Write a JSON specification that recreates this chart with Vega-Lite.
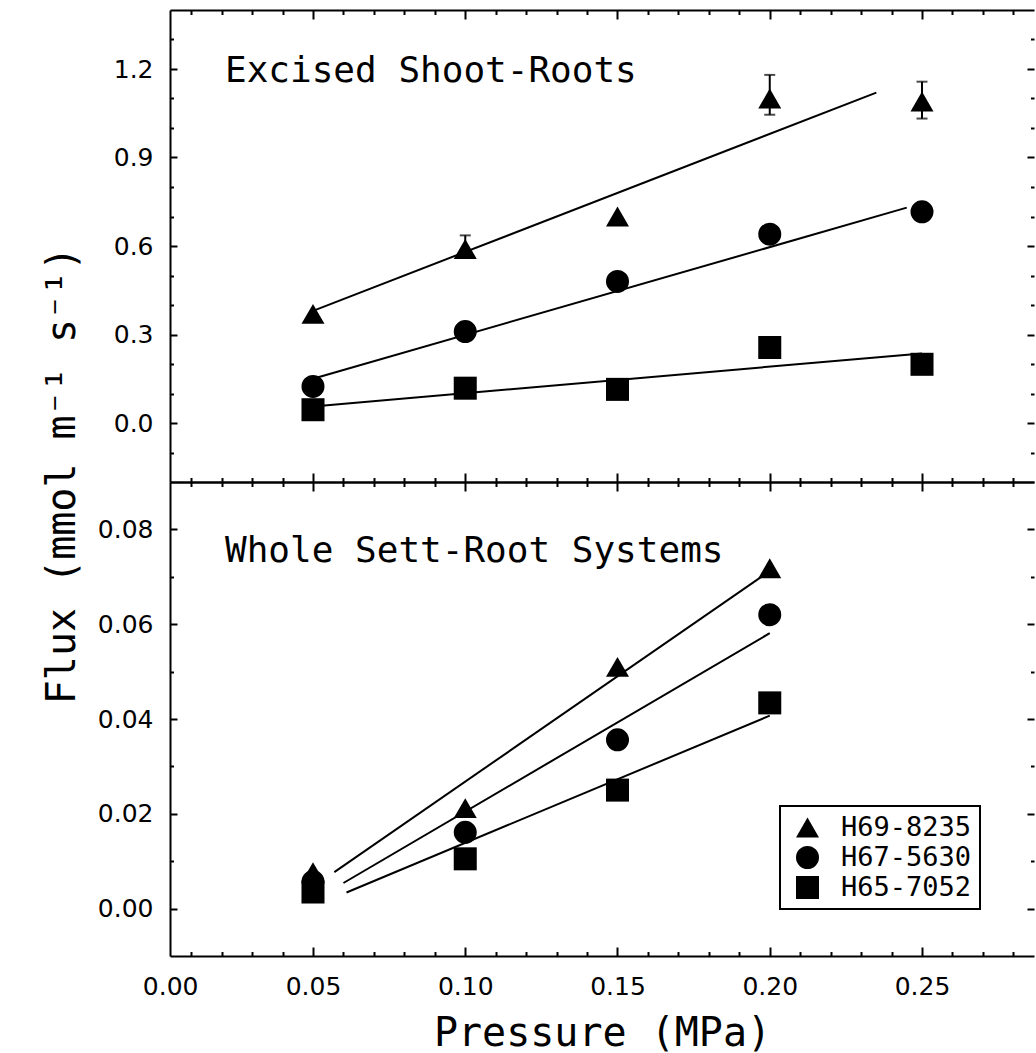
{
  "$schema": "https://vega.github.io/schema/vega-lite/v6.json",
  "background": "white",
  "padding": {"left": 42, "top": 9, "right": 0, "bottom": 0},
  "config": {
    "view": {"stroke": null},
    "axis": {
      "grid": false,
      "labelFont": "DejaVu Sans",
      "labelFontSize": 25,
      "labelColor": "black",
      "tickColor": "black",
      "tickWidth": 2,
      "domainColor": "black",
      "domainWidth": 2,
      "titleFont": "DejaVu Sans Mono",
      "titleFontSize": 40,
      "titleFontWeight": "normal",
      "titleColor": "black"
    },
    "legend": {
      "orient": "none",
      "legendX": 610,
      "legendY": 796,
      "labelFont": "DejaVu Sans Mono",
      "labelFontSize": 27,
      "labelColor": "black",
      "strokeColor": "black",
      "strokeWidth": 2,
      "fillColor": "white",
      "padding": 8,
      "symbolOffset": 6,
      "labelOffset": 20,
      "rowPadding": 2,
      "symbolStrokeWidth": 0
    }
  },
  "datasets": {
    "top_pts": [
      {"cultivar": "H69-8235", "pressure": 0.05, "flux": 0.37},
      {"cultivar": "H69-8235", "pressure": 0.10, "flux": 0.59},
      {"cultivar": "H69-8235", "pressure": 0.15, "flux": 0.70},
      {"cultivar": "H69-8235", "pressure": 0.20, "flux": 1.10},
      {"cultivar": "H69-8235", "pressure": 0.25, "flux": 1.09},
      {"cultivar": "H67-5630", "pressure": 0.05, "flux": 0.124},
      {"cultivar": "H67-5630", "pressure": 0.10, "flux": 0.31},
      {"cultivar": "H67-5630", "pressure": 0.15, "flux": 0.48},
      {"cultivar": "H67-5630", "pressure": 0.20, "flux": 0.64},
      {"cultivar": "H67-5630", "pressure": 0.25, "flux": 0.716},
      {"cultivar": "H65-7052", "pressure": 0.05, "flux": 0.045},
      {"cultivar": "H65-7052", "pressure": 0.10, "flux": 0.118},
      {"cultivar": "H65-7052", "pressure": 0.15, "flux": 0.114},
      {"cultivar": "H65-7052", "pressure": 0.20, "flux": 0.256},
      {"cultivar": "H65-7052", "pressure": 0.25, "flux": 0.199}
    ],
    "top_fit": [
      {"cultivar": "H69-8235", "pressure": 0.05, "flux": 0.38},
      {"cultivar": "H69-8235", "pressure": 0.235, "flux": 1.12},
      {"cultivar": "H67-5630", "pressure": 0.05, "flux": 0.15},
      {"cultivar": "H67-5630", "pressure": 0.245, "flux": 0.73},
      {"cultivar": "H65-7052", "pressure": 0.05, "flux": 0.056},
      {"cultivar": "H65-7052", "pressure": 0.25, "flux": 0.236}
    ],
    "top_err": [
      {"cultivar": "H69-8235", "pressure": 0.10, "lo": 0.561, "hi": 0.636},
      {"cultivar": "H69-8235", "pressure": 0.20, "lo": 1.045, "hi": 1.18},
      {"cultivar": "H69-8235", "pressure": 0.25, "lo": 1.032, "hi": 1.157}
    ],
    "top_text": [
      {"label": "Excised Shoot-Roots", "pressure": 0.0211, "flux": 1.155}
    ],
    "bot_pts": [
      {"cultivar": "H69-8235", "pressure": 0.05, "flux": 0.0077},
      {"cultivar": "H69-8235", "pressure": 0.10, "flux": 0.0212},
      {"cultivar": "H69-8235", "pressure": 0.15, "flux": 0.051},
      {"cultivar": "H69-8235", "pressure": 0.20, "flux": 0.0718},
      {"cultivar": "H67-5630", "pressure": 0.05, "flux": 0.0057},
      {"cultivar": "H67-5630", "pressure": 0.10, "flux": 0.0161},
      {"cultivar": "H67-5630", "pressure": 0.15, "flux": 0.0356},
      {"cultivar": "H67-5630", "pressure": 0.20, "flux": 0.062},
      {"cultivar": "H65-7052", "pressure": 0.05, "flux": 0.0035},
      {"cultivar": "H65-7052", "pressure": 0.10, "flux": 0.0105},
      {"cultivar": "H65-7052", "pressure": 0.15, "flux": 0.025},
      {"cultivar": "H65-7052", "pressure": 0.20, "flux": 0.0434}
    ],
    "bot_fit": [
      {"cultivar": "H69-8235", "pressure": 0.057, "flux": 0.0077},
      {"cultivar": "H69-8235", "pressure": 0.20, "flux": 0.0712},
      {"cultivar": "H67-5630", "pressure": 0.060, "flux": 0.0054},
      {"cultivar": "H67-5630", "pressure": 0.20, "flux": 0.0581},
      {"cultivar": "H65-7052", "pressure": 0.061, "flux": 0.0034},
      {"cultivar": "H65-7052", "pressure": 0.20, "flux": 0.0407}
    ],
    "bot_text": [
      {"label": "Whole Sett-Root Systems", "pressure": 0.0211, "flux": 0.0732}
    ]
  },
  "spacing": 0,
  "bounds": "flush",
  "vconcat": [
    {
      "width": 864,
      "height": 472,
      "layer": [
        {
          "data": {"name": "top_fit"},
          "mark": {"type": "line", "color": "black", "strokeWidth": 2},
          "encoding": {
            "x": {
              "field": "pressure", "type": "quantitative",
              "scale": {"domain": [0.00304, 0.28678], "nice": false, "zero": false},
              "axis": {"orient": "bottom", "values": [0.05, 0.1, 0.15, 0.2, 0.25], "tickSize": -9, "labels": false, "domain": true, "title": null}
            },
            "y": {
              "field": "flux", "type": "quantitative",
              "scale": {"domain": [-0.2, 1.4], "nice": false, "zero": false},
              "axis": {
                "orient": "left", "values": [0, 0.3, 0.6, 0.9, 1.2], "format": ".1f",
                "tickSize": -7, "labelPadding": 24, "domain": true,
                "title": "Flux (mmol m⁻¹ s⁻¹)", "titleY": 465, "titlePadding": 31
              }
            },
            "detail": {"field": "cultivar"}
          }
        },
        {
          "data": {"name": "top_err"},
          "mark": {"type": "rule", "color": "black", "strokeWidth": 2},
          "encoding": {
            "x": {
              "field": "pressure", "type": "quantitative",
              "axis": {"orient": "bottom", "values": [0.01, 0.02, 0.03, 0.04, 0.06, 0.07, 0.08, 0.09, 0.11, 0.12, 0.13, 0.14, 0.16, 0.17, 0.18, 0.19, 0.21, 0.22, 0.23, 0.24, 0.26, 0.27, 0.28], "tickSize": -4.5, "labels": false, "domain": false, "title": null}
            },
            "y": {
              "field": "lo", "type": "quantitative",
              "axis": {"orient": "left", "values": [-0.1, 0.1, 0.2, 0.4, 0.5, 0.7, 0.8, 1.0, 1.1, 1.3], "tickSize": -3.5, "labels": false, "domain": false, "title": null}
            },
            "y2": {"field": "hi"}
          }
        },
        {
          "data": {"name": "top_err"},
          "mark": {"type": "tick", "orient": "horizontal", "color": "black", "size": 11, "thickness": 2},
          "encoding": {
            "x": {
              "field": "pressure", "type": "quantitative",
              "axis": {"orient": "top", "values": [0.01, 0.02, 0.03, 0.04, 0.06, 0.07, 0.08, 0.09, 0.11, 0.12, 0.13, 0.14, 0.16, 0.17, 0.18, 0.19, 0.21, 0.22, 0.23, 0.24, 0.26, 0.27, 0.28], "tickSize": -4.5, "labels": false, "domain": false, "title": null}
            },
            "y": {
              "field": "lo", "type": "quantitative",
              "axis": {"orient": "right", "values": [-0.1, 0.1, 0.2, 0.4, 0.5, 0.7, 0.8, 1.0, 1.1, 1.3], "tickSize": -3.5, "labels": false, "domain": false, "title": null}
            }
          }
        },
        {
          "data": {"name": "top_err"},
          "mark": {"type": "tick", "orient": "horizontal", "color": "black", "size": 11, "thickness": 2},
          "encoding": {
            "x": {"field": "pressure", "type": "quantitative", "axis": null},
            "y": {"field": "hi", "type": "quantitative", "axis": null}
          }
        },
        {
          "data": {"name": "top_pts"},
          "mark": {"type": "point", "filled": true, "color": "black", "opacity": 1, "strokeWidth": 0},
          "encoding": {
            "x": {
              "field": "pressure", "type": "quantitative",
              "axis": {"orient": "top", "values": [0.05, 0.1, 0.15, 0.2, 0.25], "tickSize": -9, "labels": false, "domain": true, "title": null}
            },
            "y": {
              "field": "flux", "type": "quantitative",
              "axis": {"orient": "right", "values": [0, 0.3, 0.6, 0.9, 1.2], "tickSize": -7, "labels": false, "domain": false, "title": null}
            },
            "shape": {
              "field": "cultivar", "type": "nominal",
              "scale": {"domain": ["H69-8235", "H67-5630", "H65-7052"], "range": ["triangle-up", "circle", "square"]},
              "legend": {"title": null}
            },
            "size": {
              "field": "cultivar", "type": "nominal",
              "scale": {"domain": ["H69-8235", "H67-5630", "H65-7052"], "range": [529, 530, 380]},
              "legend": {"title": null}
            }
          }
        },
        {
          "data": {"name": "top_text"},
          "mark": {"type": "text", "font": "DejaVu Sans Mono", "fontSize": 36, "align": "left", "baseline": "alphabetic", "color": "black"},
          "encoding": {
            "x": {"field": "pressure", "type": "quantitative", "axis": null},
            "y": {"field": "flux", "type": "quantitative", "axis": null},
            "text": {"field": "label"}
          }
        }
      ],
      "resolve": {"axis": {"x": "independent", "y": "independent"}}
    },
    {
      "width": 864,
      "height": 474,
      "layer": [
        {
          "data": {"name": "bot_fit"},
          "mark": {"type": "line", "color": "black", "strokeWidth": 2},
          "encoding": {
            "x": {
              "field": "pressure", "type": "quantitative",
              "scale": {"domain": [0.00304, 0.28678], "nice": false, "zero": false},
              "axis": {
                "orient": "bottom", "values": [0.0031, 0.05, 0.1, 0.15, 0.2, 0.25], "format": ".2f",
                "ticks": false, "labelPadding": 18, "labelFlush": false, "domain": true,
                "title": "Pressure (MPa)", "titlePadding": 14
              }
            },
            "y": {
              "field": "flux", "type": "quantitative",
              "scale": {"domain": [-0.01, 0.09], "nice": false, "zero": false},
              "axis": {"orient": "left", "values": [0, 0.02, 0.04, 0.06, 0.08], "format": ".2f", "tickSize": -7, "labelPadding": 24, "domain": true, "title": null}
            },
            "detail": {"field": "cultivar"}
          }
        },
        {
          "data": {"name": "bot_pts"},
          "mark": {"type": "point", "filled": true, "color": "black", "opacity": 1, "strokeWidth": 0},
          "encoding": {
            "x": {
              "field": "pressure", "type": "quantitative",
              "axis": {"orient": "top", "values": [0.05, 0.1, 0.15, 0.2, 0.25], "tickSize": -9, "labels": false, "domain": true, "title": null}
            },
            "y": {
              "field": "flux", "type": "quantitative",
              "axis": {"orient": "right", "values": [0, 0.02, 0.04, 0.06, 0.08], "tickSize": -7, "labels": false, "domain": false, "title": null}
            },
            "shape": {
              "field": "cultivar", "type": "nominal",
              "scale": {"domain": ["H69-8235", "H67-5630", "H65-7052"], "range": ["triangle-up", "circle", "square"]},
              "legend": {"title": null}
            },
            "size": {
              "field": "cultivar", "type": "nominal",
              "scale": {"domain": ["H69-8235", "H67-5630", "H65-7052"], "range": [529, 530, 380]},
              "legend": {"title": null}
            }
          }
        },
        {
          "data": {"name": "bot_text"},
          "mark": {"type": "text", "font": "DejaVu Sans Mono", "fontSize": 36, "align": "left", "baseline": "alphabetic", "color": "black"},
          "encoding": {
            "x": {
              "field": "pressure", "type": "quantitative",
              "axis": {"orient": "bottom", "values": [0.05, 0.1, 0.15, 0.2, 0.25], "tickSize": -9, "labels": false, "domain": false, "title": null}
            },
            "y": {
              "field": "flux", "type": "quantitative",
              "axis": {"orient": "left", "values": [0.01, 0.03, 0.05, 0.07], "tickSize": -3.5, "labels": false, "domain": false, "title": null}
            },
            "text": {"field": "label"}
          }
        },
        {
          "data": {"name": "bot_pts"},
          "mark": {"type": "point", "opacity": 0},
          "encoding": {
            "x": {
              "field": "pressure", "type": "quantitative",
              "axis": {"orient": "bottom", "values": [0.01, 0.02, 0.03, 0.04, 0.06, 0.07, 0.08, 0.09, 0.11, 0.12, 0.13, 0.14, 0.16, 0.17, 0.18, 0.19, 0.21, 0.22, 0.23, 0.24, 0.26, 0.27, 0.28], "tickSize": -4.5, "labels": false, "domain": false, "title": null}
            },
            "y": {
              "field": "flux", "type": "quantitative",
              "axis": {"orient": "right", "values": [0.01, 0.03, 0.05, 0.07], "tickSize": -3.5, "labels": false, "domain": false, "title": null}
            }
          }
        },
        {
          "data": {"name": "bot_pts"},
          "mark": {"type": "point", "opacity": 0},
          "encoding": {
            "x": {
              "field": "pressure", "type": "quantitative",
              "axis": {"orient": "top", "values": [0.01, 0.02, 0.03, 0.04, 0.06, 0.07, 0.08, 0.09, 0.11, 0.12, 0.13, 0.14, 0.16, 0.17, 0.18, 0.19, 0.21, 0.22, 0.23, 0.24, 0.26, 0.27, 0.28], "tickSize": -4.5, "labels": false, "domain": false, "title": null}
            },
            "y": {"field": "flux", "type": "quantitative", "axis": null}
          }
        }
      ],
      "resolve": {"axis": {"x": "independent", "y": "independent"}}
    }
  ]
}
